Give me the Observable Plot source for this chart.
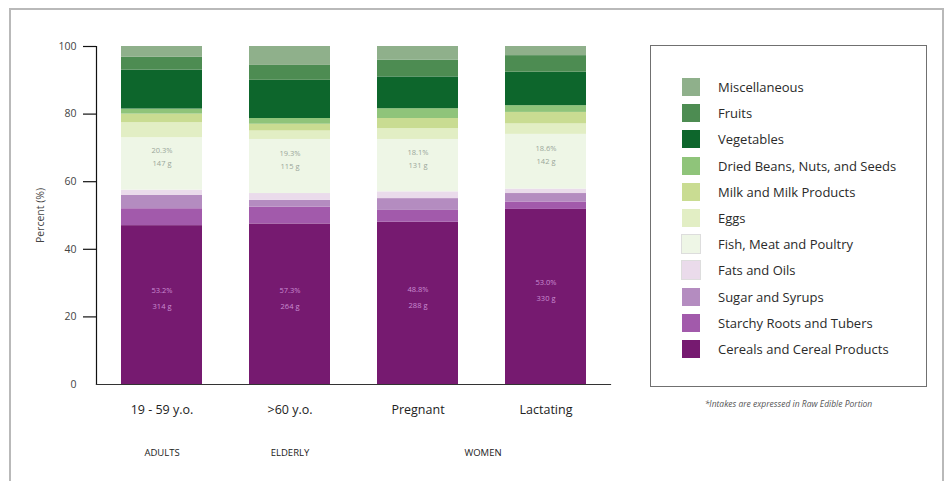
<!DOCTYPE html>
<html><head><meta charset="utf-8">
<script src="https://cdn.jsdelivr.net/npm/d3@7"></script>
<script src="https://cdn.jsdelivr.net/npm/@observablehq/plot@0.6"></script>
<style>
body{margin:0;background:#fff;font-family:"Open Sans",sans-serif;overflow:hidden}
#wrap{position:relative;width:949px;height:481px;overflow:hidden}
#frame{position:absolute;left:9px;top:8px;width:935px;height:520px;border:2px solid #b9b9b9;box-sizing:border-box}
#chart{position:absolute;left:0;top:0}
#legend{position:absolute;left:650px;top:45px;width:277px;height:342px;border:1.5px solid #707070;box-sizing:border-box;background:#fff}
.item{position:absolute;left:31px;height:18px;display:flex;align-items:center;font-size:13px;color:#2a2a2a;white-space:nowrap}
.sw{width:18px;height:18px;margin-right:18px;flex:none}
#note{position:absolute;left:650px;width:277px;top:398px;text-align:center;font-size:8.5px;font-style:italic;color:#555}
</style></head>
<body>
<div id="wrap">
  <div id="frame"></div>
  <div id="chart"></div>
  <div id="legend"></div>
  <div id="note">*Intakes are expressed in Raw Edible Portion</div>
</div>
<script>
// Groups (x categories)
const groups = ["19 - 59 y.o.", ">60 y.o.", "Pregnant", "Lactating"];
const groupLabels = ["ADULTS", "ELDERLY"];
const groupLabelX = ["19 - 59 y.o.", ">60 y.o."];
const womenLabel = "WOMEN";

// Food categories, bottom to top
const categories = [
  "Cereals and Cereal Products",
  "Starchy Roots and Tubers",
  "Sugar and Syrups",
  "Fats and Oils",
  "Fish, Meat and Poultry",
  "Eggs",
  "Milk and Milk Products",
  "Dried Beans, Nuts, and Seeds",
  "Vegetables",
  "Fruits",
  "Miscellaneous"
];
const colors = ["#761a70", "#a25aab", "#b48cc0", "#eadbeb", "#eef6e6", "#e2eec4", "#c9dc92", "#8fc47a", "#0d662c", "#4d8c52", "#8fb08b"];

// Percent of intake per group (19-59, >60, Pregnant, Lactating)
const cereals   = [47.0, 47.5, 48.0, 51.8];
const starchy   = [5.0, 5.0, 3.5, 2.2];
const sugar     = [4.0, 2.0, 3.5, 2.5];
const fats      = [1.5, 2.0, 2.0, 1.3];
const fish      = [15.5, 16.0, 15.5, 16.2];
const eggs      = [4.5, 2.5, 3.2, 3.1];
const milk      = [2.5, 2.0, 3.0, 3.4];
const beans     = [1.5, 1.7, 2.9, 2.0];
const vegetables= [11.5, 11.3, 9.4, 9.9];
const fruits    = [3.8, 4.4, 5.0, 4.9];
const misc      = [3.2, 5.6, 4.0, 2.7];
const series = [cereals, starchy, sugar, fats, fish, eggs, milk, beans, vegetables, fruits, misc];

// In-bar labels (faint, estimated)
const fishPct = ["20.3%", "19.3%", "18.1%", "18.6%"];
const fishGrams = ["147 g", "115 g", "131 g", "142 g"];
const cerealPct = ["53.2%", "57.3%", "48.8%", "53.0%"];
const cerealGrams = ["314 g", "264 g", "288 g", "330 g"];

const yTicks = [0, 20, 40, 60, 80, 100];

const rows = [];
groups.forEach((g, i) => categories.forEach((c, j) => rows.push({group: g, category: c, value: series[j][i]})));

const fishLab = groups.map((g, i) => {
  const base = cereals[i] + starchy[i] + sugar[i] + fats[i];
  return {group: g, y: base + fish[i] / 2, a: fishPct[i], b: fishGrams[i]};
});
const cerLab = groups.map((g, i) => ({group: g, y: cereals[i] / 2, a: cerealPct[i], b: cerealGrams[i]}));

const plot = Plot.plot({
  width: 949, height: 481,
  marginLeft: 96, marginRight: 339, marginTop: 46, marginBottom: 97,
  style: {fontFamily: "Open Sans, sans-serif", background: "transparent"},
  x: {domain: groups, paddingInner: 0.37, paddingOuter: 0.18, axis: null},
  y: {domain: [0, 100], axis: null},
  color: {domain: categories, range: colors},
  marks: [
    Plot.barY(rows, {x: "group", y: "value", fill: "category"}),
    Plot.text(fishLab, {x: "group", y: "y", text: "a", dy: -13, fill: "#9aa69a", fontSize: 7.5}),
    Plot.text(fishLab, {x: "group", y: "y", text: "b", dy: 0, fill: "#9aa69a", fontSize: 7.5}),
    Plot.text(cerLab, {x: "group", y: "y", text: "a", dy: -14, fill: "#c98bd0", fontSize: 7.5}),
    Plot.text(cerLab, {x: "group", y: "y", text: "b", dy: 2, fill: "#c98bd0", fontSize: 7.5}),
    Plot.frame({anchor: "left", stroke: "#111", strokeWidth: 1.2}),
    Plot.frame({anchor: "bottom", stroke: "#333", strokeWidth: 1.2}),
    Plot.axisY({ticks: yTicks.slice(1), tickSize: 13, tickFormat: () => "", label: null, stroke: "#111", strokeWidth: 1.2}),
    Plot.axisY({ticks: yTicks, tickSize: 0, tickPadding: 20, fontSize: 10.5, color: "#444",
      label: "Percent (%)", labelAnchor: "center", labelArrow: "none", labelOffset: 60}),
    Plot.axisX({tickSize: 0, tickPadding: 21, fontSize: 12.5, color: "#222", label: null}),
    Plot.text(groupLabels, {x: groupLabelX, text: d => d, frameAnchor: "bottom", dy: 71, fontSize: 9.5, fill: "#222"}),
    Plot.text([womenLabel], {x: ["Pregnant"], text: d => d, frameAnchor: "bottom", dy: 71, dx: 65, fontSize: 9.5, fill: "#222"})
  ]
});
document.getElementById("chart").appendChild(plot);

// Legend (top to bottom: reverse stacking order)
const legend = document.getElementById("legend");
categories.slice().reverse().forEach((c, k) => {
  const idx = categories.indexOf(c);
  const item = document.createElement("div");
  item.className = "item";
  item.style.top = (32 + k * 26.2) + "px";
  const sw = document.createElement("div");
  sw.className = "sw";
  sw.style.background = colors[idx];
  if (idx === 4 || idx === 3) sw.style.outline = "1px solid #ddd";
  const t = document.createElement("span");
  t.textContent = c;
  item.appendChild(sw); item.appendChild(t);
  legend.appendChild(item);
});
</script>
</body></html>
